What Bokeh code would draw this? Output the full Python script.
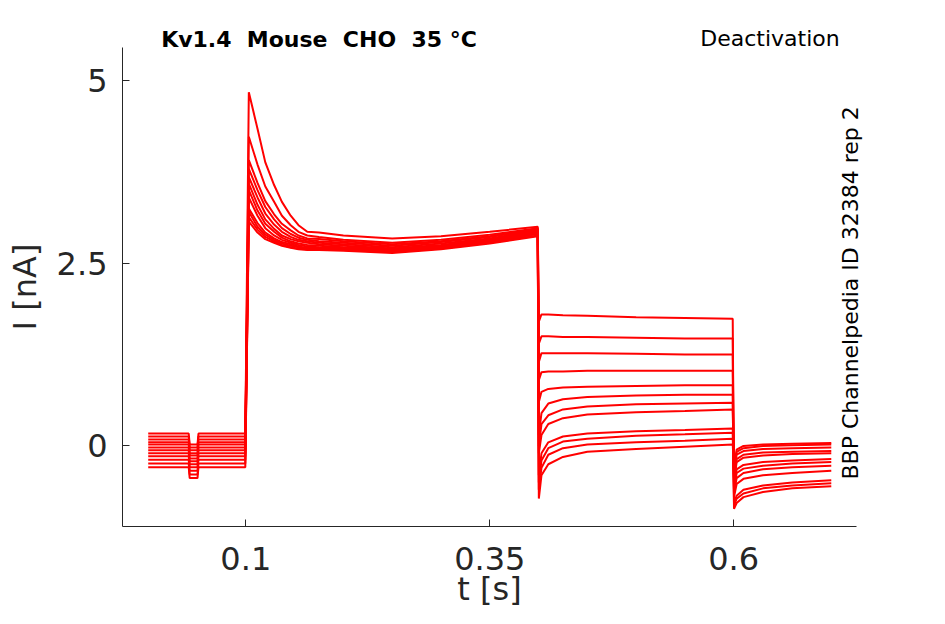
import numpy as np
from bokeh.plotting import figure
from bokeh.models import Range1d, FixedTicker, Label
from bokeh.embed import file_html
from bokeh.resources import INLINE

# key sample times of the recorded sweeps [s]
t_key = [0.0, 0.0415, 0.0425, 0.0505, 0.0515, 0.0995,
         0.1031, 0.112, 0.120, 0.129, 0.137, 0.146, 0.154, 0.163,
         0.175, 0.2, 0.25, 0.3, 0.35, 0.3992,
         0.4003, 0.403, 0.41, 0.425, 0.45, 0.5, 0.55, 0.599,
         0.6003, 0.603, 0.61, 0.63, 0.66, 0.7]

# current of each sweep at those times [nA]
sweep_01 = [0.17, 0.17, 0.02, 0.02, 0.17, 0.17, 4.84, 4.34, 3.88, 3.57, 3.34, 3.15, 3.02, 2.93,
            2.92, 2.88, 2.84, 2.87, 2.93, 3.00, 1.70, 1.80, 1.80, 1.79, 1.78, 1.76, 1.75, 1.74,
            -0.86, -0.78, -0.70, -0.63, -0.58, -0.55]
sweep_02 = [0.13, 0.13, -0.02, -0.02, 0.13, 0.13, 4.23, 3.85, 3.55, 3.34, 3.15, 3.02, 2.93, 2.88,
            2.86, 2.82, 2.78, 2.82, 2.89, 2.98, 1.40, 1.50, 1.50, 1.49, 1.49, 1.48, 1.47, 1.47,
            -0.82, -0.72, -0.65, -0.58, -0.54, -0.51]
sweep_03 = [0.09, 0.09, -0.06, -0.06, 0.09, 0.09, 3.91, 3.60, 3.35, 3.17, 3.04, 2.95, 2.88, 2.84,
            2.83, 2.80, 2.76, 2.80, 2.87, 2.97, 1.15, 1.27, 1.27, 1.27, 1.27, 1.26, 1.25, 1.25,
            -0.78, -0.68, -0.60, -0.54, -0.50, -0.47]
sweep_04 = [0.05, 0.05, -0.10, -0.10, 0.05, 0.05, 3.79, 3.50, 3.27, 3.10, 2.98, 2.90, 2.85, 2.82,
            2.80, 2.78, 2.74, 2.79, 2.86, 2.96, 0.90, 1.01, 1.02, 1.02, 1.03, 1.03, 1.03, 1.03,
            -0.70, -0.52, -0.45, -0.40, -0.37, -0.34]
sweep_05 = [0.02, 0.02, -0.13, -0.13, 0.02, 0.02, 3.68, 3.40, 3.18, 3.03, 2.93, 2.86, 2.82, 2.80,
            2.78, 2.76, 2.72, 2.77, 2.84, 2.95, 0.60, 0.74, 0.78, 0.80, 0.81, 0.82, 0.83, 0.83,
            -0.65, -0.44, -0.37, -0.32, -0.29, -0.27]
sweep_06 = [-0.02, -0.02, -0.17, -0.17, -0.02, -0.02, 3.59, 3.30, 3.10, 2.97, 2.88, 2.83, 2.80, 2.78,
            2.76, 2.74, 2.70, 2.75, 2.83, 2.94, 0.15, 0.45, 0.58, 0.64, 0.67, 0.69, 0.70, 0.70,
            -0.60, -0.37, -0.31, -0.27, -0.24, -0.22]
sweep_07 = [-0.06, -0.06, -0.21, -0.21, -0.06, -0.06, 3.50, 3.22, 3.04, 2.93, 2.85, 2.80, 2.77, 2.75,
            2.74, 2.72, 2.69, 2.74, 2.82, 2.93, 0.00, 0.30, 0.42, 0.50, 0.54, 0.57, 0.58, 0.59,
            -0.55, -0.32, -0.26, -0.22, -0.20, -0.18]
sweep_08 = [-0.10, -0.10, -0.25, -0.25, -0.10, -0.10, 3.40, 3.15, 2.98, 2.88, 2.82, 2.78, 2.75, 2.73,
            2.72, 2.71, 2.68, 2.73, 2.81, 2.92, -0.10, 0.15, 0.30, 0.38, 0.43, 0.46, 0.48, 0.50,
            -0.50, -0.22, -0.16, -0.13, -0.11, -0.10]
sweep_09 = [-0.14, -0.14, -0.29, -0.29, -0.14, -0.14, 3.25, 3.05, 2.92, 2.84, 2.79, 2.76, 2.73, 2.71,
            2.71, 2.70, 2.67, 2.72, 2.80, 2.91, -0.40, -0.10, 0.05, 0.13, 0.17, 0.20, 0.22, 0.24,
            -0.45, -0.18, -0.12, -0.09, -0.08, -0.07]
sweep_10 = [-0.19, -0.19, -0.34, -0.34, -0.19, -0.19, 3.20, 3.00, 2.89, 2.82, 2.77, 2.74, 2.72, 2.70,
            2.70, 2.69, 2.66, 2.71, 2.79, 2.90, -0.50, -0.20, -0.03, 0.06, 0.10, 0.14, 0.16, 0.18,
            -0.40, -0.12, -0.07, -0.04, -0.03, -0.02]
sweep_11 = [-0.24, -0.24, -0.39, -0.39, -0.24, -0.24, 3.13, 2.96, 2.86, 2.80, 2.75, 2.72, 2.70, 2.69,
            2.69, 2.68, 2.65, 2.70, 2.78, 2.88, -0.60, -0.30, -0.12, -0.03, 0.02, 0.05, 0.07, 0.10,
            -0.35, -0.08, -0.03, 0.00, 0.01, 0.02]
sweep_12 = [-0.29, -0.29, -0.44, -0.44, -0.29, -0.29, 3.07, 2.92, 2.83, 2.78, 2.74, 2.71, 2.69, 2.68,
            2.68, 2.67, 2.64, 2.69, 2.77, 2.87, -0.72, -0.40, -0.25, -0.15, -0.08, -0.04, -0.01, 0.02,
            -0.30, -0.05, 0.00, 0.02, 0.03, 0.04]

sweeps = [sweep_01, sweep_02, sweep_03, sweep_04, sweep_05, sweep_06,
          sweep_07, sweep_08, sweep_09, sweep_10, sweep_11, sweep_12]

x_ticks = [0.1, 0.35, 0.6]
x_tick_labels = ["0.1", "0.35", "0.6"]
y_ticks = [0, 2.5, 5]
y_tick_labels = ["0", "2.5", "5"]

title_left = "Kv1.4\u00a0 Mouse\u00a0 CHO\u00a0 35 °C"
title_right = "Deactivation"
side_note = "BBP Channelpedia ID 32384 rep 2"

# axes box (data units)
X0, X1 = -0.02636, 0.7258
Y0, Y1 = -1.1017, 5.452

FONT = "DejaVu Sans"
AX = "#262626"

p = figure(width=929, height=608, output_backend="svg", toolbar_location=None,
           x_range=Range1d(-0.15138, 0.80065), y_range=Range1d(-2.2239, 6.0948),
           min_border=0)
p.outline_line_color = None
p.grid.visible = False
p.background_fill_color = "white"
p.border_fill_color = "white"

for s in sweeps:
    p.line(t_key, s, line_color="#ff0000", line_width=2)

for ax in (p.xaxis[0], p.yaxis[0]):
    ax.axis_line_color = AX
    ax.axis_line_width = 1
    ax.major_tick_line_color = AX
    ax.major_tick_in = 7
    ax.major_tick_out = 0
    ax.minor_tick_line_color = None
    ax.major_label_text_font = FONT
    ax.major_label_text_font_size = "32px"
    ax.major_label_text_color = AX
    ax.axis_label_text_font = FONT
    ax.axis_label_text_font_size = "32px"
    ax.axis_label_text_font_style = "normal"
    ax.axis_label_text_color = AX

p.xaxis.fixed_location = Y0
p.xaxis.bounds = (X0, X1)
p.yaxis.fixed_location = X0
p.yaxis.bounds = (Y0, Y1)

p.xaxis.ticker = FixedTicker(ticks=x_ticks)
p.xaxis.major_label_overrides = dict(zip(x_ticks, x_tick_labels))
p.yaxis.ticker = FixedTicker(ticks=y_ticks)
p.yaxis.major_label_overrides = dict(zip(y_ticks, y_tick_labels))
p.xaxis.axis_label = "t [s]"
p.yaxis.axis_label = "I [nA]"
p.xaxis.major_label_standoff = 21
p.xaxis.axis_label_standoff = -4
p.yaxis.major_label_standoff = 15
p.yaxis.axis_label_standoff = 10

p.add_layout(Label(x=0.175, y=5.565, text=title_left, text_font=FONT, text_font_size="22px",
                   text_font_style="bold", text_align="center", text_baseline="alphabetic",
                   text_color="black"))
p.add_layout(Label(x=0.6372, y=5.575, text=title_right, text_font=FONT, text_font_size="22px",
                   text_align="center", text_baseline="alphabetic", text_color="black"))
p.add_layout(Label(x=0.7202, y=2.094, text=side_note, text_font=FONT, text_font_size="22px",
                   angle=np.pi / 2, text_align="center", text_baseline="middle",
                   text_color="black"))

open("out.html", "w").write(file_html(p, INLINE))
